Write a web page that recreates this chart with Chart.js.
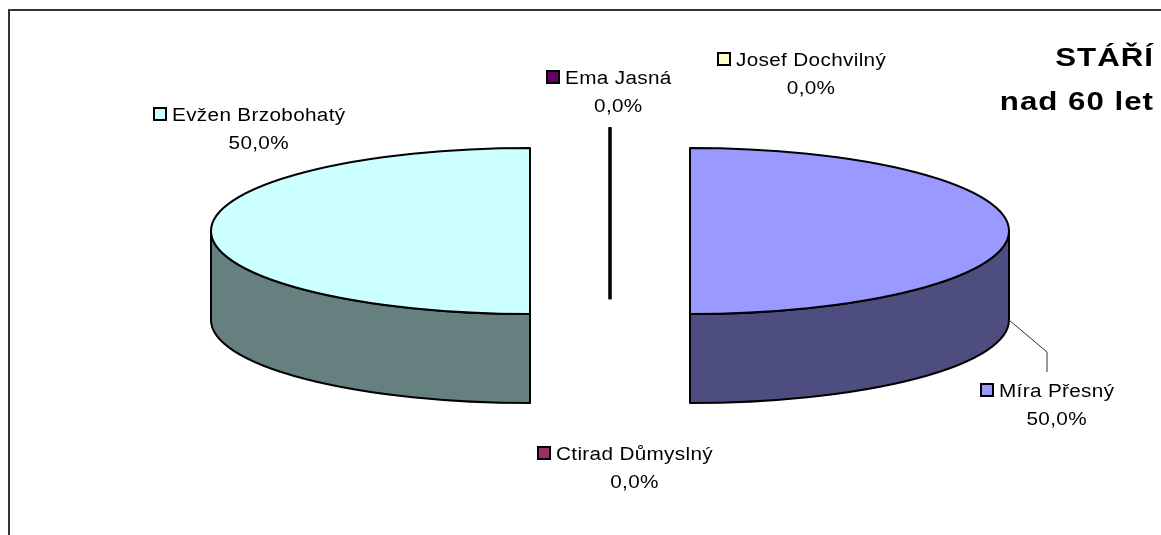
<!DOCTYPE html>
<html>
<head>
<meta charset="utf-8">
<script src="https://cdn.jsdelivr.net/npm/chart.js@4/dist/chart.umd.min.js"></script>
<style>
  html, body { margin: 0; padding: 0; background: #fff; }
  #wrap { width: 1161px; height: 535px; position: relative; }
</style>
</head>
<body>
<div id="wrap"><canvas id="c" width="1161" height="535"></canvas></div>
<script>
// Slices, clockwise from 12 o'clock
const names = ['Josef Dochvilný', 'Míra Přesný', 'Ctirad Důmyslný', 'Evžen Brzobohatý', 'Ema Jasná'];
const counts = [0, 1, 0, 1, 0];
const topColors = ['#FFFFCC', '#9999FF', '#993366', '#CCFFFF', '#660066'];
const sideColors = ['#808066', '#4D4D80', '#4D1A33', '#668080', '#330033'];
const titleLines = ['STÁŘÍ', 'nad 60 let'];

// Label boxes placed relative to the pie centre (key square top-left corner)
const labelLayout = [
  { dx: 107, dy: -179 },
  { dx: 370, dy: 152, leader: true },
  { dx: -73, dy: 215 },
  { dx: -457, dy: -124 },
  { dx: -64, dy: -161 }
];

const FONT = '"Liberation Sans", Arial, Helvetica, sans-serif';

function pct(v, total) {
  return (total ? v / total * 100 : 0).toFixed(1).replace('.', ',') + '%';
}

function frontRanges(s, e) {
  const out = [];
  for (let k = -1; k <= 1; k++) {
    const lo = Math.max(s, 2 * Math.PI * k);
    const hi = Math.min(e, 2 * Math.PI * k + Math.PI);
    if (hi > lo) out.push([lo, hi]);
  }
  return out;
}

// text set slightly wide: horizontal stretch plus a little tracking
function wideWidth(ctx, str, hs, sp) {
  return (ctx.measureText(str).width - sp) * hs;
}
function wideText(ctx, str, x, y, hs) {
  ctx.save();
  ctx.translate(x, y);
  ctx.scale(hs, 1);
  ctx.fillText(str, 0, 0);
  ctx.restore();
}

const pie3d = {
  id: 'pie3d',
  beforeDraw(chart) {
    const ctx = chart.ctx;
    ctx.save();
    ctx.fillStyle = '#ffffff';
    ctx.fillRect(0, 0, chart.width, chart.height);
    ctx.strokeStyle = '#333333';
    ctx.lineWidth = 2;
    ctx.beginPath();
    ctx.moveTo(9, chart.height);
    ctx.lineTo(9, 10);
    ctx.lineTo(chart.width, 10);
    ctx.stroke();
    ctx.restore();
  },
  beforeDatasetsDraw(chart, args, opts) {
    const ctx = chart.ctx;
    const area = chart.chartArea;
    const arcs = chart.getDatasetMeta(0).data;
    const sx = area.width / area.height;
    const E = opts.explode, D = opts.depth;

    // side walls first
    arcs.forEach((arc, i) => {
      const { x, y, outerRadius: R, startAngle: s, endAngle: e } = arc.getProps(['x', 'y', 'outerRadius', 'startAngle', 'endAngle'], true);
      const rx = R * sx, ry = R;
      if (e - s <= 0) return;
      const mid = (s + e) / 2;
      const X = x + E * Math.cos(mid), Y = y + E * Math.sin(mid) * ry / rx;
      frontRanges(s, e).forEach(([a0, a1]) => {
        ctx.save();
        ctx.beginPath();
        ctx.ellipse(X, Y, rx, ry, 0, a0, a1, false);
        ctx.lineTo(X + rx * Math.cos(a1), Y + ry * Math.sin(a1) + D);
        ctx.ellipse(X, Y + D, rx, ry, 0, a1, a0, true);
        ctx.closePath();
        ctx.fillStyle = sideColors[i];
        ctx.fill();
        ctx.lineWidth = 2;
        ctx.lineJoin = 'round';
        ctx.strokeStyle = '#000';
        ctx.stroke();
        ctx.restore();
      });
    });

    // top faces, drawn by the arc elements under an elliptical transform
    arcs.forEach((arc, i) => {
      const { x, y, outerRadius: R, startAngle: s, endAngle: e } = arc.getProps(['x', 'y', 'outerRadius', 'startAngle', 'endAngle'], true);
      const rx = R * sx, ry = R;
      if (e - s <= 0) {
        // empty slice: its exploded cut face shows as a single edge
        if (Math.sin(s) < 0) {
          const px = x + E * Math.cos(s), py = y + E * Math.sin(s) * ry / rx;
          const qx = px + rx * Math.cos(s), qy = py + ry * Math.sin(s);
          ctx.save();
          ctx.beginPath();
          ctx.moveTo(px, py);
          ctx.lineTo(qx, qy);
          ctx.lineTo(qx, qy + D);
          ctx.lineTo(px, py + D);
          ctx.closePath();
          ctx.lineWidth = 3;
          ctx.strokeStyle = '#000';
          ctx.stroke();
          ctx.restore();
        }
        return;
      }
      const mid = (s + e) / 2;
      const dx = E * Math.cos(mid), dy = E * Math.sin(mid) * ry / rx;
      ctx.save();
      ctx.translate(x + dx, y + dy);
      ctx.scale(sx, 1);
      ctx.translate(-x, -y);
      arc.draw(ctx);
      ctx.restore();

      ctx.save();
      ctx.beginPath();
      ctx.moveTo(x + dx, y + dy);
      ctx.ellipse(x + dx, y + dy, rx, ry, 0, s, e, false);
      ctx.closePath();
      ctx.lineWidth = 2;
      ctx.lineJoin = 'round';
      ctx.strokeStyle = '#000';
      ctx.stroke();
      ctx.restore();
    });
    return false;
  },
  afterDraw(chart, args, opts) {
    const ctx = chart.ctx;
    const area = chart.chartArea;
    const arcs = chart.getDatasetMeta(0).data;
    const data = chart.data.datasets[0].data;
    const total = data.reduce((a, b) => a + b, 0);
    const sx = area.width / area.height;
    const cx = arcs[0].x, cy = arcs[0].y;

    // data labels with legend keys
    ctx.save();
    ctx.font = '18px ' + FONT;
    const hs = 1.15, sp = 0.3;
    ctx.letterSpacing = sp + 'px';
    ctx.textBaseline = 'alphabetic';
    ctx.textAlign = 'left';
    labelLayout.forEach((L, i) => {
      const kx = cx + L.dx, ky = cy + L.dy;
      ctx.fillStyle = topColors[i];
      ctx.fillRect(kx + 1, ky + 1, 12, 12);
      ctx.lineWidth = 2;
      ctx.strokeStyle = '#000';
      ctx.strokeRect(kx + 1, ky + 1, 12, 12);

      const tx = kx + 19;
      const base = ky + 14;
      ctx.fillStyle = '#000';
      wideText(ctx, chart.data.labels[i], tx, base, hs);
      const w1 = wideWidth(ctx, chart.data.labels[i], hs, sp);
      const p = pct(data[i], total);
      const w2 = wideWidth(ctx, p, hs, sp);
      wideText(ctx, p, tx + (w1 - w2) / 2, base + 28, hs);

      if (L.leader) {
        const arc = arcs[i];
        const R = arc.outerRadius, rx = R * sx;
        const mid = (arc.startAngle + arc.endAngle) / 2;
        const ex = arc.x + opts.explode * Math.cos(mid) + rx;
        const ey = arc.y + opts.explode * Math.sin(mid) * R / rx + opts.depth;
        ctx.beginPath();
        ctx.moveTo(ex, ey);
        ctx.lineTo(kx + 67, ky - 31);
        ctx.lineTo(kx + 67, ky - 11);
        ctx.lineWidth = 1;
        ctx.strokeStyle = '#333';
        ctx.stroke();
      }
    });
    ctx.restore();

    // title, top right
    ctx.save();
    ctx.font = 'bold 25px ' + FONT;
    const ths = 1.25, tsp = 0.8;
    ctx.letterSpacing = tsp + 'px';
    ctx.fillStyle = '#000';
    ctx.textAlign = 'left';
    const right = 1153;
    [66, 110].forEach((b, k) => {
      const w = wideWidth(ctx, titleLines[k], ths, tsp);
      wideText(ctx, titleLines[k], right - w, b, ths);
    });
    ctx.restore();
  }
};

new Chart(document.getElementById('c'), {
  type: 'pie',
  data: {
    labels: names,
    datasets: [{
      data: counts,
      backgroundColor: topColors,
      borderWidth: 0,
      hoverBorderWidth: 0,
      hoverOffset: 0,
      offset: 0
    }]
  },
  options: {
    responsive: false,
    devicePixelRatio: 1,
    animation: false,
    events: [],
    layout: { padding: { left: 291, right: 232, top: 148, bottom: 221 } },
    plugins: {
      legend: { display: false },
      tooltip: { enabled: false },
      title: { display: false },
      pie3d: { explode: 80, depth: 89 }
    }
  },
  plugins: [pie3d]
});
</script>
</body>
</html>
